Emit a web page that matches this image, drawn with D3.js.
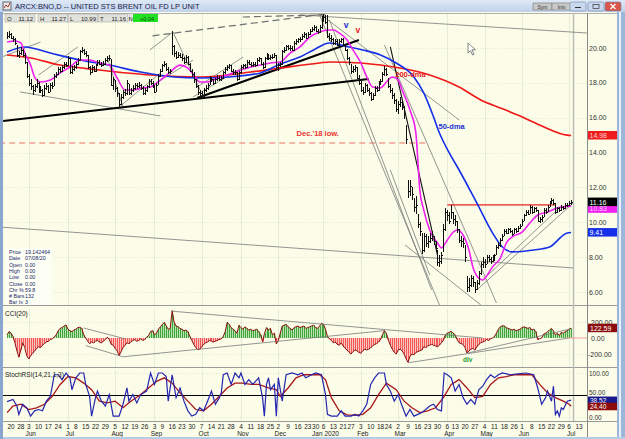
<!DOCTYPE html>
<html><head><meta charset="utf-8">
<script src="https://cdn.jsdelivr.net/npm/d3@7/dist/d3.min.js"></script>
<style>
body{margin:0;background:#fff;overflow:hidden}
svg text{font-family:"Liberation Sans",Arial,sans-serif}
</style></head><body>
<svg id="c" width="625" height="439"></svg>
<script>
// ---------- DATA ----------
const firstDay = "2019-05-16";
const holidays = ["2019-05-27","2019-07-04","2019-09-02","2019-11-28","2019-12-25","2020-01-01","2020-01-20","2020-02-17","2020-04-10","2020-05-25","2020-07-03"];
const priceClose = [20.7,20.8,20.6,20.5,20.3,19.6,19.7,19.9,19.6,19.2,18.4,18.0,17.8,17.6,17.8,18.0,17.5,17.6,17.3,17.7,
17.8,17.5,17.9,17.8,18.4,18.5,18.8,18.7,18.9,19.1,19.0,19.4,18.6,18.8,18.9,19.1,19.3,19.8,19.9,19.7,
19.6,18.9,18.6,18.9,18.7,19.0,19.2,19.1,19.0,19.1,19.3,19.4,19.4,17.9,18.2,17.7,17.4,16.8,17.2,17.5,
17.4,18.0,17.4,17.6,17.7,17.9,17.8,17.9,17.7,17.4,17.6,17.8,18.1,18.0,17.8,17.5,17.9,18.4,18.7,19.0,
19.1,18.8,18.6,18.7,20.1,19.7,19.5,19.6,19.5,19.4,19.2,19.5,19.1,18.7,18.5,18.2,17.8,17.5,17.4,17.3,
17.6,17.7,17.9,18.3,18.2,18.0,18.2,18.3,18.2,18.3,18.6,18.8,18.9,19.0,18.7,18.6,18.6,18.2,18.6,18.9,
19.0,18.9,19.2,19.1,19.0,19.1,19.0,19.3,19.4,19.1,18.9,19.4,19.6,19.4,19.5,19.5,19.6,18.9,19.0,19.1,
19.8,19.9,20.1,20.0,20.0,19.9,20.3,20.4,20.5,20.5,20.7,20.8,20.6,20.8,21.0,21.1,21.2,21.0,20.9,21.2,
21.7,21.8,21.5,20.7,20.6,20.5,20.3,20.4,20.2,20.4,20.5,20.2,19.9,19.4,19.2,18.7,18.8,18.9,18.3,18.0,
17.6,17.5,17.9,17.6,17.4,17.1,17.3,17.7,17.6,18.0,18.1,18.5,18.8,18.5,17.8,17.6,17.3,17.0,16.5,16.8,
16.9,16.6,16.2,14.8,11.8,12.1,11.6,10.9,11.0,9.9,9.5,8.4,9.2,8.8,8.9,9.1,9.2,8.9,8.5,7.7,
7.8,8.1,9.6,10.6,10.4,10.1,10.6,10.2,10.1,9.6,9.0,8.9,8.8,8.0,6.3,6.4,6.8,6.6,6.2,6.5,
7.1,7.6,7.7,7.6,8.0,7.9,7.8,8.0,8.1,8.6,8.7,9.0,9.2,9.5,9.4,9.6,9.5,9.3,9.6,9.5,
9.7,9.8,10.1,10.4,10.6,10.5,10.9,10.6,10.8,10.7,10.1,10.2,10.3,10.7,10.6,10.9,11.1,11.3,11.1,10.6,
10.8,10.7,10.9,10.8,11.0,11.0,11.1,11.16];
const priceHigh = [20.9,20.95,20.85,20.7,20.55,20.2,19.85,20.05,19.95,19.7,19.2,18.5,18.2,17.9,17.95,18.2,18.05,17.8,17.65,17.85,
18.0,17.85,18.0,18.05,18.5,18.65,18.9,18.9,19.05,19.2,19.2,19.55,19.4,18.95,19.05,19.2,19.4,19.9,20.05,19.95,
19.8,19.6,18.95,19.05,18.95,19.1,19.3,19.3,19.2,19.25,19.4,19.55,19.6,19.35,18.35,18.15,17.75,17.4,17.35,17.6,
17.65,18.15,17.95,17.7,17.85,18.0,18.0,18.05,17.95,17.8,17.7,17.9,18.2,18.2,18.1,17.85,18.0,18.5,18.8,19.1,
19.25,19.15,18.9,18.8,21.0,20.2,19.85,19.75,19.7,19.65,19.5,19.6,19.55,19.15,18.8,18.6,18.25,17.9,17.6,17.55,
17.7,17.85,18.0,18.4,18.35,18.25,18.3,18.45,18.4,18.4,18.7,18.9,19.0,19.1,19.05,18.8,18.75,18.65,18.7,19.0,
19.1,19.1,19.3,19.3,19.2,19.2,19.2,19.4,19.5,19.45,19.2,19.5,19.7,19.65,19.6,19.65,19.7,19.6,19.15,19.2,
19.9,20.05,20.2,20.2,20.15,20.1,20.4,20.5,20.6,20.65,20.8,20.9,20.85,20.9,21.1,21.2,21.3,21.25,21.1,21.3,
21.85,21.95,21.9,21.9,20.85,20.75,20.6,20.5,20.5,20.5,20.6,20.6,20.25,19.95,19.5,19.1,18.95,19.05,18.9,18.45,
18.1,17.75,18.0,17.95,17.7,17.45,17.4,17.8,17.8,18.1,18.25,18.6,18.95,18.85,18.3,17.95,17.7,17.4,17.05,16.95,
17.2,17.0,16.7,15.6,12.4,12.4,12.0,11.4,11.5,10.5,10.0,9.4,9.4,9.3,9.2,9.4,9.5,9.2,8.9,8.4,
8.1,8.3,9.9,10.8,10.7,10.6,11.0,10.6,10.4,10.1,9.6,9.2,9.1,8.7,6.9,6.8,7.0,6.9,6.6,6.7,
7.2,7.7,8.0,7.9,8.1,8.1,8.0,8.1,8.2,8.7,8.85,9.1,9.3,9.6,9.6,9.7,9.7,9.55,9.7,9.7,
9.8,9.9,10.2,10.5,10.7,10.7,11.0,10.95,10.9,10.9,10.7,10.3,10.4,10.8,10.8,11.0,11.2,11.4,11.35,11.1,
10.9,10.85,11.0,10.95,11.1,11.1,11.2,11.27];
const priceLow = [20.5,20.6,20.5,20.35,20.15,19.5,19.45,19.6,19.5,19.1,18.3,17.8,17.6,17.3,17.5,17.7,17.4,17.45,17.2,17.25,
17.6,17.4,17.45,17.65,17.8,18.3,18.45,18.55,18.6,18.8,18.9,18.95,18.5,18.5,18.7,18.8,19.0,19.25,19.7,19.6,
19.5,18.8,18.45,18.55,18.6,18.65,18.95,19.0,18.9,18.95,19.05,19.2,19.25,17.8,17.6,17.5,17.2,16.55,16.75,17.1,
17.25,17.3,17.3,17.3,17.5,17.6,17.65,17.7,17.6,17.3,17.3,17.5,17.7,17.9,17.7,17.4,17.45,17.85,18.35,18.65,
18.9,18.7,18.5,18.5,19.6,19.5,19.35,19.4,19.4,19.25,19.1,19.15,19.0,18.6,18.35,18.0,17.7,17.3,17.15,17.1,
17.2,17.5,17.6,17.85,18.05,17.9,17.95,18.1,18.1,18.1,18.25,18.5,18.7,18.8,18.6,18.45,18.45,18.1,18.15,18.5,
18.8,18.8,18.85,19.0,18.9,18.9,18.9,18.95,19.2,19.0,18.8,18.85,19.3,19.3,19.3,19.35,19.4,18.8,18.7,18.9,
19.05,19.7,19.8,19.9,19.85,19.8,19.85,20.2,20.3,20.35,20.45,20.6,20.5,20.55,20.75,20.9,21.0,20.9,20.8,20.85,
21.1,21.5,21.35,20.6,20.4,20.35,20.2,20.15,20.1,20.1,20.3,20.1,19.8,19.3,19.0,18.5,18.55,18.65,18.2,17.85,
17.45,17.3,17.4,17.5,17.25,16.95,17.0,17.25,17.45,17.55,17.9,18.05,18.4,18.4,17.7,17.4,17.1,16.8,16.3,16.2,
16.6,16.45,15.9,14.5,11.4,11.5,11.3,10.6,10.5,9.7,9.2,8.2,8.3,8.6,8.5,8.8,8.9,8.7,8.3,7.5,
7.45,7.6,8.3,9.5,10.1,9.9,10.2,9.9,9.8,9.4,8.8,8.6,8.5,7.7,6.0,6.0,6.3,6.3,5.95,6.1,
6.4,7.0,7.4,7.4,7.6,7.7,7.6,7.7,7.8,8.1,8.45,8.6,8.9,9.2,9.3,9.35,9.4,9.2,9.3,9.4,
9.45,9.6,9.8,10.05,10.35,10.4,10.5,10.5,10.55,10.6,10.0,9.95,10.0,10.3,10.5,10.6,10.85,11.05,11.0,10.5,
10.55,10.6,10.65,10.7,10.75,10.9,10.95,10.99];
// moving averages: [trading-day index from 2019-05-20, value]
const maShortIdx = [-2,2,5,7,10,12,15,20,25,30,35,40,45,50,54,58,62,67,71,76,81,86,90,93,96,100,105,110,117,122,127,132,137,142,147,152,157,161,164,167,171,174,178,181,184,188,191,194,197,199,203,206,207,208,210,213,217,219,222,225,227,230,233,235,238,240,243,245,249,252,255,260,264,268,273,278,285];
const maShortVal = [20.34,20.40,20.29,19.71,19.02,18.33,18.05,18.16,18.57,18.91,19.31,19.31,19.14,19.02,18.28,17.59,17.59,17.71,17.76,18.16,18.62,19.02,18.85,18.45,18.05,18.05,18.28,18.45,18.74,18.91,19.02,19.14,19.20,19.71,20.06,20.63,20.92,21.03,21.03,20.86,20.46,19.89,19.14,18.34,17.76,17.71,18.05,18.34,18.16,17.59,16.44,15.12,13.57,11.85,10.71,9.56,8.81,8.53,8.98,9.44,9.56,9.27,8.41,7.44,6.80,6.69,7.09,7.44,7.95,8.81,9.16,9.44,9.96,10.42,10.59,10.82,10.93];
const ma50Idx = [-2,7,20,35,50,66,83,96,111,127,137,147,154,162,172,179,188,196,205,210,215,218,223,228,237,245,250,255,266,274,283,285];
const ma50Val = [19.77,20.06,19.71,19.31,19.02,18.62,18.34,18.28,18.34,18.57,19.08,19.48,19.89,20.29,20.06,19.89,19.60,19.14,18.34,17.42,16.04,15.12,13.98,13.0,11.11,9.39,8.58,8.30,8.41,8.58,9.39,9.41];
const ma200Idx = [-2,10,25,45,71,96,122,137,157,162,178,198,213,228,239,249,259,269,283,285];
const ma200Val = [19.6,19.43,19.02,18.74,18.45,18.34,18.62,18.85,19.14,19.2,19.14,18.85,18.45,17.76,17.02,16.56,16.1,15.58,15.0,14.98];
const cci = [40,80,60,20,-60,-160,-240,-150,-60,-120,-220,-262,-220,-190,-160,-130,-110,-120,-90,-70,
-50,-40,-20,-10,10,40,90,120,130,150,162,110,90,80,100,110,130,133,120,40,
0,-40,-70,-50,-60,-40,-30,-50,-60,-40,-20,10,-20,-80,-90,-130,-160,-220,-170,-120,
-90,-60,-70,-50,-30,-20,-40,-30,-10,-30,-20,10,30,80,92,40,60,110,140,170,
196,150,110,120,342,200,150,140,120,110,90,100,80,20,-30,-80,-120,-146,-140,-110,
-80,-60,-50,-30,-40,-50,-40,-30,-20,-10,20,80,196,170,130,110,90,60,160,130,
110,140,120,100,110,90,100,110,80,40,-46,60,130,100,120,40,60,-75,-30,60,
150,160,170,140,120,100,130,140,150,130,140,150,120,130,140,150,160,130,120,150,
183,170,110,20,-10,-30,-60,-50,-80,-90,-60,-100,-130,-150,-180,-200,-170,-150,-160,-180,
-190,-160,-140,-150,-140,-120,-100,-80,-70,-50,-20,40,92,60,-30,-90,-140,-180,-200,-150,
-140,-160,-200,-260,-304,-230,-200,-210,-180,-170,-160,-150,-110,-120,-100,-90,-80,-90,-100,-110,
-90,-60,-30,40,60,70,83,60,40,-20,-60,-70,-80,-120,-187,-160,-140,-130,-150,-110,
-80,-60,-50,-40,-20,-30,-10,0,20,60,110,140,154,150,130,120,110,100,110,90,
100,110,130,140,130,120,130,100,110,80,-20,-10,0,50,60,80,100,120,90,40,
60,30,70,60,80,90,110,122.59];
const stochKIdx = [-2,1,3,4,6,8,10,12,14,16,18,20,21,22,24,26,28,30,31,33,35,37,38,40,41,43,44,46,48,50,52,53,55,57,59,60,62,64,66,69,71,73,75,77,79,80,82,84,86,88,90,92,94,96,98,100,102,104,106,107,108,110,112,114,116,117,119,121,123,126,128,128.9,130,131,132,134,135,136,138,140,143,146,148,150,153,155,158,160,161,163,166,168,170,173,175,177,179,181,183,185,187,190,191,193,195,197,199,201,203,205,207,209,211,213,215,217,219,220.4,222,224,226,228,230,232,234,236,238,240,242,244,246,248,250,254,258,262,266,268,270,272,273,275,276,277,278,279,280,281,283,285];
const stochK = [35,40,25,6,29,21,2,14,17,14,36,47,70,96,96,85,100,89,62,89,100,100,74,47,2,44,59,36,25,51,2,2,2,29,66,36,51,32,51,59,100,74,100,100,92,36,96,44,66,36,14,2,6,21,14,36,59,29,44,55,96,100,74,100,89,100,74,85,74,89,44,2,74,89,62,74,2,89,36,96,100,96,100,89,96,100,96,51,6,2,2,14,2,2,6,2,14,29,74,89,100,100,74,59,36,51,25,2,17,2,6,10,17,25,29,17,14,100,96,89,59,74,44,29,40,29,62,70,85,96,89,96,100,96,98,100,96,66,29,44,59,36,70,6,14,2,21,17,36,38.52];
const stochDIdx = [-2,1,5,9,13,17,21,25,29,33,37,41,45,49,53,57,61,66,70,74,78,82,86,90,94,98,102,106,110,114,118,122,126,131,135,137,141,145,149,153,157,160,163,167,171,175,179,183,187,191,196,200,204,208,212,216,220,224,228,232,236,240,244,248,252,256,261,265,269,273,277,281,284,285];
const stochD = [10,25,29,17,21,29,47,74,92,89,77,62,36,32,36,21,36,51,66,81,89,77,55,36,17,14,29,47,66,77,77,74,74,66,62,47,66,89,96,96,96,85,44,14,5,4,6,21,51,77,62,36,21,10,14,21,44,74,85,66,44,47,74,89,92,96,96,96,74,55,44,36,29,24.4];
// axis / annotations
const priceTicks = [6,8,10,12,14,16,18,20];
const weekTicks = ["2019-05-20","2019-05-28","2019-06-03","2019-06-10","2019-06-17","2019-06-24","2019-07-01","2019-07-08","2019-07-15","2019-07-22","2019-07-29","2019-08-05","2019-08-12","2019-08-19","2019-08-26","2019-09-03","2019-09-09","2019-09-16","2019-09-23","2019-09-30","2019-10-07","2019-10-14","2019-10-21","2019-10-28","2019-11-04","2019-11-11","2019-11-18","2019-11-25","2019-12-02","2019-12-09","2019-12-16","2019-12-23","2019-12-30","2020-01-06","2020-01-13","2020-01-21","2020-01-27","2020-02-03","2020-02-10","2020-02-18","2020-02-24","2020-03-02","2020-03-09","2020-03-16","2020-03-23","2020-03-30","2020-04-06","2020-04-13","2020-04-20","2020-04-27","2020-05-04","2020-05-11","2020-05-18","2020-05-26","2020-06-01","2020-06-08","2020-06-15","2020-06-22","2020-06-29","2020-07-06","2020-07-13"];
const monthTicks = ["2019-06-03","2019-07-01","2019-08-05","2019-09-03","2019-10-07","2019-11-04","2019-12-02","2020-01-06","2020-02-03","2020-03-02","2020-04-06","2020-05-04","2020-06-01","2020-07-06"];
const monthNames = ["Jun","Jul","Aug","Sep","Oct","Nov","Dec","Jan 2020","Feb","Mar","Apr","May","Jun","Jul"];
// trendlines: [idx1, value1, idx2, value2]
const priceLinesGray = [[147,21.9,293,20.86],[-6,9.73,286,7.38],[157,21.89,218,5.26],[158,21.89,228,15.87],[162,21.61,214,6.12],[190,20.17,247,5.37],[193,13.0,213,6.98],[200.5,8.7,239,5.26],[237,6.12,286,11.1],[240,6.69,279,10.82],[4.6,17.48,76,16.1],[-6,19.43,15,20.34],[14,18.45,34,20.06],[49,19.43,57,16.61],[54.5,16.56,76,18.57],[70.7,19.89,82.4,20.92],[70.7,17.76,92.6,19.31],[82.4,20.92,96.2,17.59],[92.6,17.19,121.6,19.14],[94.7,17.76,118.1,19.48]];
const priceLinesDashed = [[72,20.7,160,21.95],[118,21.78,160,21.9]];
const priceLinesBlack = [[-4,15.81,182,18.22],[94.7,17.13,177,20.46]];
const priceLinesBlackThin = [[193,20.06,217,8.12]];
const resistLine = [222,11.0,277,11.0];
const dec18Low = [-6,14.55,211,14.55];
const cciLines = [[37,125,58,-10],[38,-95,57,-235],[57,-235,190,92],[82,335,240,0],[202,-310,284,0],[232,-190,284,110]];
const lastVals = {close:11.16, ma200:14.98, ma20:10.83, ma50:9.41, cci:122.59, k:38.52, d:24.40};

// ---------- LAYOUT ----------
const svg = d3.select("#c");
const W=625,H=439;
const L=3, R=587;
const P1={t:13,b:305}, P2={t:308,b:367}, P3={t:369,b:421};
const bg="#fbfde8";

// trading day calendar
const days=[];
{let d=new Date(firstDay+"T00:00:00Z");
 while(days.length<300){const s=d.toISOString().slice(0,10),w=d.getUTCDay();
  if(w!==0&&w!==6&&!holidays.includes(s))days.push(s); d.setUTCDate(d.getUTCDate()+1);} }
const off = days.indexOf("2019-05-20");
const dayIdx = s => days.indexOf(s)-off;

const x = d3.scaleLinear().domain([0,289]).range([11,579]);
const y = d3.scaleLinear().domain([6,20]).range([292,48]);
const yc = d3.scaleLinear().domain([-200,200]).range([354,322]);
const ys = d3.scaleLinear().domain([0,100]).range([417,373]);

// window chrome
const defs=svg.append("defs");
const g1=defs.append("linearGradient").attr("id","tb").attr("x1",0).attr("y1",0).attr("x2",0).attr("y2",1);
g1.append("stop").attr("offset","0").attr("stop-color","#dfe9f6");
g1.append("stop").attr("offset","1").attr("stop-color","#bfd2ea");
svg.append("rect").attr("width",W).attr("height",H).attr("fill","#c4d5ec");
svg.append("rect").attr("width",W).attr("height",12).attr("fill","url(#tb)");
svg.append("rect").attr("x",L).attr("y",12).attr("width",617-L).attr("height",H-12-2).attr("fill",bg);
svg.append("rect").attr("x",617).attr("y",12).attr("width",8).attr("height",H-12).attr("fill","#9db6da");
svg.append("rect").attr("x",619).attr("y",12).attr("width",2).attr("height",H-12).attr("fill","#e9f0fa");

// title
svg.append("rect").attr("x",3).attr("y",2).attr("width",8).attr("height",8).attr("fill","#e8e8e0").attr("stroke","#667");
svg.append("path").attr("d","M4,8 L6,5 L8,7 L10,3").attr("stroke","#a33").attr("fill","none");
svg.append("text").attr("x",15).attr("y",9).attr("font-size",7.5).attr("fill","#1a1a4a").text("ARCX:BNO,D -- UNITED STS BRENT OIL FD LP UNIT");
[[533,"Sym"],[552,"Intv"]].forEach(([bx,t])=>{
 svg.append("rect").attr("x",bx).attr("y",3).attr("width",19).attr("height",7).attr("fill","#c8c8c8").attr("stroke","#777").attr("stroke-width",0.6);
 svg.append("text").attr("x",bx+9.5).attr("y",8.6).attr("font-size",5).attr("text-anchor","middle").attr("fill","#333").text(t);});
[[570,"#c9d8ee"],[588,"#c9d8ee"],[605,"#d9574a"]].forEach(([bx,c])=>{
 svg.append("rect").attr("x",bx).attr("y",2).attr("width",16).attr("height",9).attr("rx",1.5).attr("fill",c).attr("stroke","#6f86a8").attr("stroke-width",0.6);});
svg.append("line").attr("x1",575).attr("x2",581).attr("y1",7.5).attr("y2",7.5).attr("stroke","#333");
svg.append("rect").attr("x",593).attr("y",4.5).attr("width",6).attr("height",4).attr("fill","none").attr("stroke","#333").attr("stroke-width",0.7);
svg.append("path").attr("d","M610.5,4 L615.5,9 M615.5,4 L610.5,9").attr("stroke","#fff").attr("stroke-width",1.2);

// panel frames
[P1,P2,P3].forEach(p=>{
 svg.append("line").attr("x1",L).attr("x2",617).attr("y1",p.b+0.5).attr("y2",p.b+0.5).attr("stroke","#9a9a9a");
});
svg.append("line").attr("x1",L).attr("x2",617).attr("y1",P1.t+0.5).attr("y2",P1.t+0.5).attr("stroke","#b0b0b0");

// grids
const gridG=svg.append("g");
monthTicks.forEach(s=>{const xx=Math.round(x(dayIdx(s)))+0.5;
 [P1,P2,P3].forEach(p=>gridG.append("line").attr("x1",xx).attr("x2",xx).attr("y1",p.t+1).attr("y2",p.b).attr("stroke","#e6ecd8").attr("stroke-width",1));});
priceTicks.forEach(v=>gridG.append("line").attr("x1",L).attr("x2",R).attr("y1",Math.round(y(v))+0.5).attr("y2",Math.round(y(v))+0.5).attr("stroke","#dfe6cf").attr("stroke-dasharray","1,2"));
[-200,200].forEach(v=>gridG.append("line").attr("x1",L).attr("x2",R).attr("y1",Math.round(yc(v))+0.5).attr("y2",Math.round(yc(v))+0.5).attr("stroke","#dfe6cf").attr("stroke-dasharray","1,2"));
[0,100].forEach(v=>gridG.append("line").attr("x1",L).attr("x2",R).attr("y1",Math.round(ys(v))+0.5).attr("y2",Math.round(ys(v))+0.5).attr("stroke","#dfe6cf").attr("stroke-dasharray","1,2"));

svg.append("line").attr("x1",R+0.5).attr("x2",R+0.5).attr("y1",P1.t).attr("y2",P3.b+16).attr("stroke","#8a8a8a").attr("stroke-width",1);
svg.append("line").attr("x1",573.5).attr("x2",573.5).attr("y1",P1.t).attr("y2",P3.b).attr("stroke","#bdbdb5").attr("stroke-width",1.5);

// ---------- PRICE PANEL ----------
const pg=svg.append("g");
const lineP = d3.line().x(d=>x(d[0])).y(d=>y(d[1]));
pg.append("path").attr("d",lineP([[dec18Low[0],dec18Low[1]],[dec18Low[2],dec18Low[3]]])).attr("stroke","#f0a090").attr("stroke-width",1.3).attr("stroke-dasharray","6,4").attr("fill","none");
priceLinesGray.forEach(l=>pg.append("path").attr("d",lineP([[l[0],l[1]],[l[2],l[3]]])).attr("stroke","#7a7a7a").attr("stroke-width",0.8).attr("fill","none"));
priceLinesDashed.forEach(l=>pg.append("path").attr("d",lineP([[l[0],l[1]],[l[2],l[3]]])).attr("stroke","#707070").attr("stroke-width",1.2).attr("stroke-dasharray","7,4").attr("fill","none"));
priceLinesBlack.forEach(l=>pg.append("path").attr("d",lineP([[l[0],l[1]],[l[2],l[3]]])).attr("stroke","#000").attr("stroke-width",2).attr("fill","none"));
priceLinesBlackThin.forEach(l=>pg.append("path").attr("d",lineP([[l[0],l[1]],[l[2],l[3]]])).attr("stroke","#111").attr("stroke-width",1.1).attr("fill","none"));
pg.append("path").attr("d",lineP([[resistLine[0],resistLine[1]],[resistLine[2],resistLine[3]]])).attr("stroke","#ee2020").attr("stroke-width",1.3).attr("fill","none");

const curve = d3.line().x(d=>x(d[0])).y(d=>y(d[1])).curve(d3.curveMonotoneX);
pg.append("path").attr("d",curve(ma200Idx.map((d,i)=>[d,ma200Val[i]]))).attr("stroke","#f01818").attr("stroke-width",1.6).attr("fill","none");
pg.append("path").attr("d",curve(ma50Idx.map((d,i)=>[d,ma50Val[i]]))).attr("stroke","#1530e8").attr("stroke-width",1.6).attr("fill","none");
pg.append("path").attr("d",curve(maShortIdx.map((d,i)=>[d,maShortVal[i]]))).attr("stroke","#f020f0").attr("stroke-width",1.6).attr("fill","none");

const bars=pg.append("g").attr("stroke","#101010").attr("shape-rendering","crispEdges");
priceClose.forEach((c,k)=>{const i=k-2; const xx=Math.round(x(i))+0.5;
 bars.append("line").attr("x1",xx).attr("x2",xx).attr("y1",y(priceHigh[k])).attr("y2",y(priceLow[k]));
 bars.append("line").attr("x1",xx).attr("x2",xx+1.5).attr("y1",Math.round(y(c))+0.5).attr("y2",Math.round(y(c))+0.5);
});

const lab=(i,v,t,c,fs,bold)=>pg.append("text").attr("x",x(i)).attr("y",y(v)).attr("fill",c).attr("font-size",fs).attr("font-weight",bold?"bold":"normal").text(t);
lab(195.5,18.35,"200-dma","#e82020",7.5,true);
lab(217.5,15.35,"50-dma","#2030d0",7.5,true);
lab(145.3,14.95,"Dec.'18 low.","#ee3030",7.5,true);
lab(169.3,21.15,"v","#2030d0",8.5,true);
lab(175.3,20.85,"v","#ee2020",8.5,true);

pg.append("path").attr("d","M468,43 L468,53 L470.5,50.5 L472.5,55 L474,54.3 L472,49.8 L475.5,49.8 Z").attr("fill","#fff").attr("stroke","#555").attr("stroke-width",0.7);

priceTicks.forEach(v=>svg.append("text").attr("x",589).attr("y",y(v)+2.5).attr("font-size",7).attr("fill","#333").text(v.toFixed(2)));
const box=(yy,txt,fill,tc)=>{svg.append("rect").attr("x",588).attr("y",yy-4.5).attr("width",29).attr("height",8.5).attr("fill",fill);
 svg.append("text").attr("x",589.5).attr("y",yy+2.5).attr("font-size",7).attr("fill",tc).text(txt);};
box(y(lastVals.ma200),lastVals.ma200.toFixed(2),"#ee1c1c","#ffd0d0");
box(y(lastVals.ma20)+1,lastVals.ma20.toFixed(2),"#f020f0","#ffd0ff");
box(y(lastVals.close),lastVals.close.toFixed(2),"#000","#fff");
box(y(lastVals.ma50),lastVals.ma50.toFixed(2),"#1530e8","#fff");

// OHLC header
const hdr=svg.append("g");
[["O",5,"11.12"],["H",38,"11.27"],["L",68,"10.99"],["T",98,"11.16"]].forEach(([l,hx,v])=>{
 hdr.append("rect").attr("x",hx).attr("y",14).attr("width",30).attr("height",8).attr("fill","#e2e2dc").attr("stroke","#999").attr("stroke-width",0.5);
 hdr.append("text").attr("x",hx+2).attr("y",20.5).attr("font-size",6).attr("fill","#222").text(l);
 hdr.append("text").attr("x",hx+28).attr("y",20.5).attr("font-size",6).attr("text-anchor","end").attr("fill","#222").text(v);});
hdr.append("rect").attr("x",128).attr("y",14).attr("width",4).attr("height",8).attr("fill","#e2e2dc");
hdr.append("text").attr("x",128.5).attr("y",20.5).attr("font-size",6).attr("fill","#222").text("N");
hdr.append("rect").attr("x",133).attr("y",14).attr("width",25).attr("height",8).attr("fill","#22e022");
hdr.append("text").attr("x",154).attr("y",20.5).attr("font-size",5.5).attr("text-anchor","end").attr("fill","#075007").text("+0.04");

const info=[["Price","19.142464"],["Date","07/08/20"],["Open","0.00"],["High","0.00"],["Low","0.00"],["Close","0.00"],["Chr %","59.8"],["# Bars","132"],["Bar Ix","3"]];
svg.append("rect").attr("x",6).attr("y",248).attr("width",46).attr("height",57).attr("fill","#fdfef4");
info.forEach((r,k)=>{svg.append("text").attr("x",9).attr("y",254+k*6.3).attr("font-size",5.3).attr("fill","#1a2a6a").text(r[0]);
 svg.append("text").attr("x",25).attr("y",254+k*6.3).attr("font-size",5.3).attr("fill","#1a2a6a").text(r[1]);});

// ---------- CCI PANEL ----------
const cg=svg.append("g");
const z=yc(0);
const cciPts=cci.map((v,k)=>[k-2,v]);
cg.append("path").attr("d",d3.area().x(d=>x(d[0])).y0(z).y1(d=>yc(Math.max(0,d[1])))(cciPts)).attr("fill","#bde3b0");
cg.append("path").attr("d",d3.area().x(d=>x(d[0])).y0(z).y1(d=>yc(Math.min(0,d[1])))(cciPts)).attr("fill","#fbc4bd");
cciPts.forEach(d=>{const xx=Math.round(x(d[0]))+0.5;
 cg.append("line").attr("x1",xx).attr("x2",xx).attr("y1",z).attr("y2",yc(d[1])).attr("stroke",d[1]>=0?"#2f9e2f":"#f24c4c").attr("stroke-width",0.9);});
cg.append("path").attr("d",d3.line().x(d=>x(d[0])).y(d=>yc(d[1]))(cciPts)).attr("stroke","#8a0d0d").attr("stroke-width",1).attr("fill","none");
cciLines.forEach(l=>cg.append("path").attr("d",d3.line().x(d=>x(d[0])).y(d=>yc(d[1]))([[l[0],l[1]],[l[2],l[3]]])).attr("stroke","#7a7a7a").attr("stroke-width",0.8).attr("fill","none"));
cg.append("line").attr("x1",x(282)).attr("x2",R).attr("y1",z).attr("y2",z).attr("stroke","#f5a0a0").attr("stroke-width",1);
cg.append("text").attr("x",x(230)).attr("y",362).attr("font-size",6.5).attr("font-weight","bold").attr("fill","#2a9a2a").text("div");
cg.append("text").attr("x",5).attr("y",316).attr("font-size",6.5).attr("fill","#222").text("CCI(20)");
[[200,"200.00"],[0,"0.00"],[-200,"-200.00"]].forEach(([v,t])=>svg.append("text").attr("x",v<0?588:591).attr("y",yc(v)+2.5).attr("font-size",7).attr("fill","#333").text(t));
svg.append("rect").attr("x",588).attr("y",yc(lastVals.cci)-4.5).attr("width",29).attr("height",8.5).attr("fill","#8c0c0c");
svg.append("text").attr("x",590).attr("y",yc(lastVals.cci)+2.5).attr("font-size",7).attr("fill","#fff").text(lastVals.cci.toFixed(2));

// ---------- STOCH RSI PANEL ----------
const sg=svg.append("g");
sg.append("line").attr("x1",L).attr("x2",R).attr("y1",Math.round(ys(50))+0.5).attr("y2",Math.round(ys(50))+0.5).attr("stroke","#000").attr("stroke-width",1.2);
const ls=d3.line().x(d=>x(d[0])).y(d=>ys(d[1]));
sg.append("path").attr("d",ls(stochDIdx.map((d,i)=>[d,stochD[i]]))).attr("stroke","#a8161a").attr("stroke-width",1.3).attr("fill","none");
sg.append("path").attr("d",ls(stochKIdx.map((d,i)=>[d,stochK[i]]))).attr("stroke","#2525b0").attr("stroke-width",1.2).attr("fill","none");
sg.append("text").attr("x",5).attr("y",377).attr("font-size",6.5).attr("fill","#222").text("StochRSI(14,21,1,3)");
[[100,"100.00",2.5],[50,"50.00",0.3],[0,"0.00",2.5]].forEach(([v,t,dy])=>svg.append("text").attr("x",589).attr("y",ys(v)+dy).attr("font-size",6.5).attr("fill","#333").text(t));
svg.append("rect").attr("x",588).attr("y",ys(lastVals.k)-3.5).attr("width",29).attr("height",7.5).attr("fill","#1a1a8e");
svg.append("text").attr("x",590).attr("y",ys(lastVals.k)+3).attr("font-size",6.5).attr("fill","#fff").text(lastVals.k.toFixed(2));
svg.append("rect").attr("x",588).attr("y",ys(lastVals.d)-3.5).attr("width",29).attr("height",7.5).attr("fill","#8c0c0c");
svg.append("text").attr("x",590).attr("y",ys(lastVals.d)+3).attr("font-size",6.5).attr("fill","#fff").text(lastVals.d.toFixed(2));

// ---------- DATE AXIS ----------
const ax=svg.append("g");
weekTicks.forEach(s=>{const xx=x(dayIdx(s)); ax.append("text").attr("x",xx).attr("y",428.5).attr("font-size",6.5).attr("text-anchor","middle").attr("fill","#222").text(+s.slice(8));});
monthTicks.forEach((s,k)=>{const xx=x(dayIdx(s))+2; ax.append("text").attr("x",xx).attr("y",435.5).attr("font-size",6.5).attr("text-anchor","middle").attr("fill","#222").text(monthNames[k]);});
svg.append("rect").attr("x",0).attr("y",437).attr("width",W).attr("height",2).attr("fill","#b8cce6");
svg.append("rect").attr("x",0).attr("y",12).attr("width",3).attr("height",H).attr("fill","#8aa6d0");
</script></body></html>
